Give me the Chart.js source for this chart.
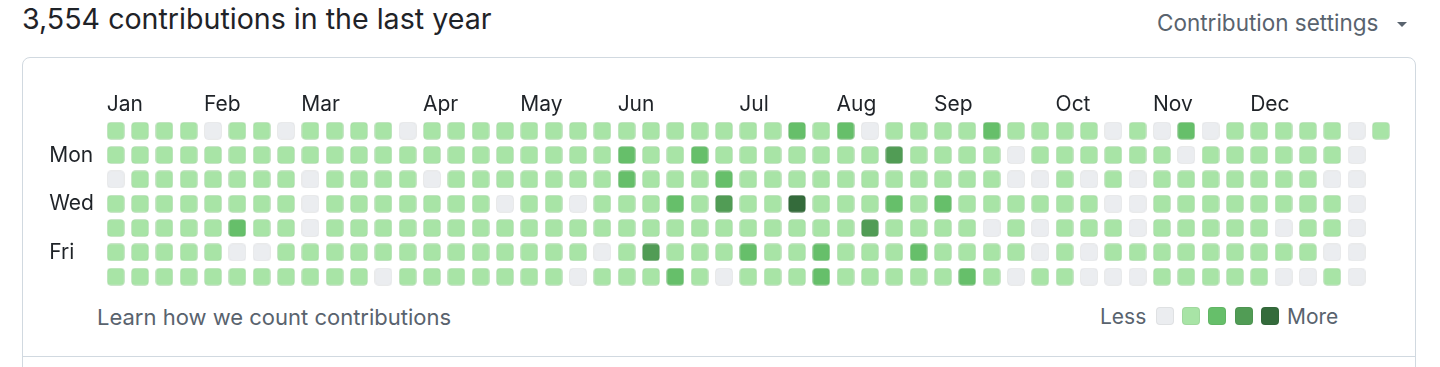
<!DOCTYPE html>
<html>
<head>
<meta charset="utf-8">
<title>Contributions</title>
<script src="https://cdn.jsdelivr.net/npm/chart.js@4/dist/chart.umd.min.js"></script>
<style>
  body { margin: 0; background: #fff; font-family: Inter, "Noto Sans", sans-serif; }
  #page { position: relative; width: 1440px; height: 367px; overflow: hidden; }
  .txt { position: absolute; white-space: nowrap; line-height: 1; }
  #title { left: 22px; top: 5px; font-size: 28.6px; color: #1f2328; }
  #settings { left: 1157px; top: 12px; font-size: 22.5px; color: #59636e; }
  #caret { position: absolute; left: 1397px; top: 22px; width: 0; height: 0;
           border-left: 5.5px solid transparent; border-right: 5.5px solid transparent; border-top: 5px solid #59636e; }
  #box { position: absolute; left: 22px; top: 57px; width: 1392px; height: 400px;
         border: 1px solid #d1d9e0; border-radius: 8px; }
  #divider { position: absolute; left: 22px; top: 356px; width: 1394px; height: 1px; background: #d1d9e0; }
  #learn { left: 97px; top: 306px; font-size: 22px; color: #59636e; }
  #less { left: 1100px; top: 306px; font-size: 21px; color: #59636e; }
  #more { left: 1287px; top: 306px; font-size: 21px; color: #59636e; }
  .swatch { position: absolute; top: 307px; width: 18px; height: 18px; border-radius: 4px;
            box-sizing: border-box; border: 1px solid rgba(31,35,40,0.06); }
  #graph { position: absolute; left: 0; top: 0; }
</style>
</head>
<body>
<div id="page">
  <div id="box"></div>
  <div id="divider"></div>
  <div class="txt" id="title">3,554 contributions in the last year</div>
  <div class="txt" id="settings">Contribution settings</div>
  <div id="caret"></div>
  <div class="txt" id="learn">Learn how we count contributions</div>
  <div class="txt" id="less">Less</div>
  <div class="txt" id="more">More</div>
  <canvas id="graph" width="1440" height="367"></canvas>
</div>
<script>
// month labels and the week column each one starts at
const monthLabels = ['Jan', 'Feb', 'Mar', 'Apr', 'May', 'Jun', 'Jul', 'Aug', 'Sep', 'Oct', 'Nov', 'Dec'];
const monthStartWeek = [0, 4, 8, 13, 17, 21, 26, 30, 34, 39, 43, 47];
const dayLabels = ['', 'Mon', '', 'Wed', '', 'Fri', ''];

// contribution level (0-4) per week, one array per weekday
const sun = [1,1,1,1,0,1,1,0,1, 1,1,1,0,1,1,1,1,1, 1,1,1,1,1,1,1,1,1, 1,2,1,2,0,1,1,1,1, 2,1,1,1,1,0,1,0,2, 0,1,1,1,1,1,0,1];
const mon = [1,1,1,1,1,1,1,1,1, 1,1,1,1,1,1,1,1,1, 1,1,1,2,1,1,2,1,1, 1,1,1,1,1,3,1,1,1, 1,0,1,1,1,1,1,1,0, 1,1,1,1,1,1,0];
const tue = [0,1,1,1,1,1,1,1,0, 1,1,1,1,0,1,1,1,1, 1,1,1,2,1,1,1,2,1, 1,1,1,1,1,1,1,1,1, 1,0,0,1,0,1,0,1,1, 1,1,1,1,1,0,0];
const wed = [1,1,1,1,1,1,1,1,0, 1,1,1,1,1,1,1,0,1, 1,0,1,1,1,2,1,3,1, 1,4,1,1,1,2,1,2,1, 1,1,1,1,1,0,0,1,1, 1,1,1,1,1,1,0];
const thu = [1,1,1,1,1,2,1,1,0, 1,1,1,1,1,1,1,1,1, 1,1,1,1,1,1,1,1,1, 1,1,1,1,3,1,1,1,1, 0,1,0,1,1,1,0,1,1, 1,1,1,0,1,1,0];
const fri = [1,1,1,1,1,0,0,1,1, 1,1,1,1,1,1,1,1,1, 1,1,0,1,3,1,1,1,2, 1,1,2,1,1,1,2,1,1, 1,1,0,1,0,1,1,1,1, 1,1,1,1,1,0,0];
const sat = [1,1,1,1,1,1,1,1,1, 1,1,0,1,1,1,1,1,1, 1,0,1,1,1,2,1,0,1, 1,1,2,1,1,1,1,1,2, 1,0,1,1,0,0,0,1,1, 1,1,1,0,0,1,0];
const weekdays = [sun, mon, tue, wed, thu, fri, sat];

const levelColors = ['#ebedf0', '#a8e4a6', '#66bf6a', '#519c55', '#346b3b'];

const CELL = 18;
const PITCH = 24.33;
const firstX = 115.7;
const firstY = 130.7;

function cellImage(color) {
    const c = document.createElement('canvas');
    c.width = CELL;
    c.height = CELL;
    const g = c.getContext('2d');
    g.beginPath();
    g.roundRect(0.5, 0.5, CELL - 1, CELL - 1, 3.5);
    g.fillStyle = color;
    g.fill();
    g.strokeStyle = 'rgba(31,35,40,0.06)';
    g.lineWidth = 1;
    g.stroke();
    return c;
}
const cellImages = levelColors.map(cellImage);

// legend swatches
const page = document.getElementById('page');
levelColors.forEach((color, i) => {
    const s = document.createElement('div');
    s.className = 'swatch';
    s.style.left = (1156 + i * 26.2) + 'px';
    s.style.background = color;
    page.appendChild(s);
});

const datasets = weekdays.map((levels, row) => ({
    label: dayLabels[row],
    data: levels.map((level, week) => ({ x: week, y: row, level: level })),
    pointStyle: ctx => cellImages[ctx.raw.level],
    pointRadius: CELL / 2,
    pointHoverRadius: CELL / 2
}));

const labelPlugin = {
    id: 'gridLabels',
    afterDatasetsDraw(chart) {
        const { ctx, scales: { x, y } } = chart;
        ctx.save();
        ctx.font = '21px Inter, "Noto Sans", sans-serif';
        ctx.fillStyle = '#1f2328';
        ctx.textAlign = 'left';
        ctx.textBaseline = 'alphabetic';
        const monthY = y.getPixelForValue(0) - 20;
        monthLabels.forEach((m, i) => {
            ctx.fillText(m, x.getPixelForValue(monthStartWeek[i]) - CELL / 2, monthY);
        });
        const dayX = x.getPixelForValue(0) - 66.5;
        dayLabels.forEach((d, row) => {
            if (d) ctx.fillText(d, dayX, y.getPixelForValue(row) + 6.5);
        });
        ctx.restore();
    }
};

new Chart(document.getElementById('graph'), {
    type: 'scatter',
    data: { datasets: datasets },
    options: {
        responsive: false,
        animation: false,
        layout: { padding: 0, autoPadding: false },
        scales: {
            x: { type: 'linear', display: false, min: -firstX / PITCH, max: (1440 - firstX) / PITCH },
            y: { type: 'linear', display: false, reverse: true, min: -firstY / PITCH, max: (367 - firstY) / PITCH }
        },
        plugins: {
            legend: { display: false },
            tooltip: { enabled: false }
        }
    },
    plugins: [labelPlugin]
});
</script>
</body>
</html>
